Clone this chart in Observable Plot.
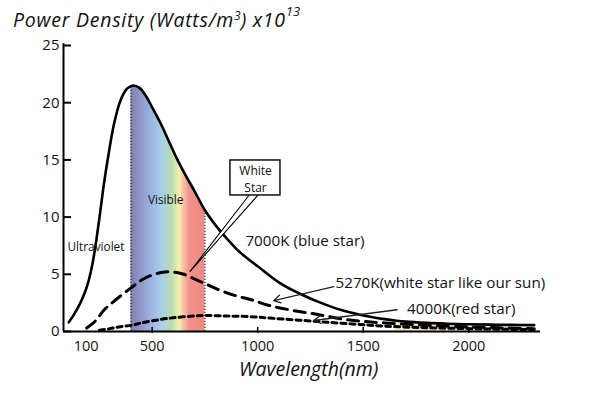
<!DOCTYPE html>
<html>
<head>
<meta charset="utf-8">
<script src="https://cdn.jsdelivr.net/npm/d3@7"></script>
<script src="https://cdn.jsdelivr.net/npm/@observablehq/plot@0.6"></script>
<style>
  html, body { margin: 0; padding: 0; background: #fff; }
  #wrap { position: relative; width: 602px; height: 395px; font-family: "Open Sans", sans-serif; }
  #title { position: absolute; left: 13px; top: 10px; font-size: 19.5px; line-height: 1; font-style: italic; color: #111; white-space: nowrap; letter-spacing: 0.75px; }
  #title sup { font-size: 12px; line-height: 0; letter-spacing: 0; }
  #title sup.big { font-size: 13px; position: relative; top: -4px; }
</style>
</head>
<body>
<div id="wrap">
  <div id="title">Power Density (Watts/m<sup>3</sup>) x10<sup class="big">13</sup></div>
</div>
<script>
// ---- Data ----
// 7000K (blue star), power density x10^13 W/m^3
const wl7000 = [105, 130, 160, 185, 200, 215, 230, 250, 270, 290, 320, 350, 380, 400, 410, 440, 470, 500, 540, 580, 620, 660, 700, 750, 800, 850, 900, 950, 1000, 1100, 1200, 1300, 1400, 1500, 1600, 1650, 1700, 1800, 1900, 2000, 2100, 2200, 2310];
const pw7000 = [0.8, 1.5, 2.5, 3.6, 4.5, 5.7, 7.3, 9.9, 12.7, 15.1, 18.2, 20.2, 21.2, 21.45, 21.5, 21.3, 20.6, 19.6, 18.2, 16.6, 15.0, 13.6, 12.3, 10.6, 9.3, 8.2, 7.2, 6.4, 5.7, 4.3, 3.3, 2.5, 1.85, 1.4, 1.08, 0.96, 0.86, 0.75, 0.68, 0.63, 0.6, 0.58, 0.56];
// 5270K (white star like our sun)
const wl5270 = [190, 230, 273, 310, 350, 406, 450, 510, 560, 600, 650, 700, 760, 823, 900, 966, 1050, 1150, 1280, 1437, 1600, 1800, 2000, 2150, 2310];
const pw5270 = [0.3, 0.9, 1.9, 2.5, 3.1, 3.9, 4.5, 5.0, 5.2, 5.2, 5.0, 4.6, 4.1, 3.6, 3.1, 2.8, 2.3, 1.9, 1.5, 1.0, 0.75, 0.55, 0.4, 0.32, 0.25];
// 4000K (red star)
const wl4000 = [250, 300, 350, 405, 450, 539, 600, 697, 760, 854, 966, 1075, 1280, 1450, 1600, 1800, 2000, 2150, 2310];
const pw4000 = [0.1, 0.25, 0.42, 0.55, 0.75, 1.05, 1.2, 1.35, 1.4, 1.35, 1.3, 1.15, 0.88, 0.65, 0.47, 0.33, 0.25, 0.2, 0.16];
// Visible band (nm) and infrared shading start
const visibleBand = [400, 750];
const infraredStart = 1650;
// Axis ticks
const xTicks = [500, 1000, 1500, 2000];
const xExtraLabel = ["100"];
const yTicks = [0, 5, 10, 15, 20, 25];
// Annotations (data coordinates)
const seriesLabels = [
  {text: "7000K (blue star)", w: 942, p: 7.9},
  {text: "5270K(white star like our sun)", w: 1369, p: 4.22},
  {text: "4000K(red star)", w: 1708, p: 1.98}
];
const arrows = [
  {w1: 1361, p1: 3.93, w2: 1076, p2: 2.7},
  {w1: 1661, p1: 1.9, w2: 1266, p2: 0.96}
];
const regionLabels = [
  {text: "Ultraviolet", w: 99, p: 7.37},
  {text: "Visible", w: 480, p: 11.45}
];
const calloutBox = {x1: 871, x2: 1108, y1: 11.89, y2: 14.95};
const calloutLines = [{text: "White", w: 990, p: 14.0}, {text: "Star", w: 990, p: 12.56}];
const calloutWedge = [{w: 958, p: 11.89}, {w: 680, p: 5.25}, {w: 1000, p: 11.89}];

// ---- Build tables ----
const zip = (ws, ps) => ws.map((w, i) => ({w, p: ps[i]}));
const d7000 = zip(wl7000, pw7000);
const d5270 = zip(wl5270, pw5270);
const d4000 = zip(wl4000, pw4000);
const dVisible = d7000.filter(d => d.w >= visibleBand[0] && d.w <= visibleBand[1]);
const dInfra = d7000.filter(d => d.w >= infraredStart);
const edgeRules = visibleBand.map(w => ({w, p: d7000.find(d => d.w === w).p}));

const X0 = 80, X1 = 2340;
const tickLenX = 38; // ~8px in nm
const curve = "catmull-rom";

const chart = Plot.plot({
  width: 602,
  height: 395,
  marginTop: 45,
  marginBottom: 64,
  marginLeft: 63,
  marginRight: 62,
  style: {fontFamily: "Open Sans, sans-serif", color: "#111", background: "transparent", overflow: "visible"},
  x: {domain: [X0, X1], axis: null},
  y: {domain: [0, 25], axis: null},
  marks: [
    Plot.areaY(dInfra, {x: "w", y: "p", fill: "#f6e9c9", curve}),
    Plot.areaY(dVisible, {x: "w", y: "p", fill: "url(#spectrum)", curve}),
    Plot.ruleX(edgeRules, {x: "w", y1: 0, y2: "p", stroke: "#333", strokeWidth: 1.3, strokeDasharray: "1.3 1.7"}),
    Plot.line(d4000, {x: "w", y: "p", stroke: "#000", strokeWidth: 3, strokeDasharray: "5 4", curve}),
    Plot.line(d5270, {x: "w", y: "p", stroke: "#000", strokeWidth: 3, strokeDasharray: "11 7", curve}),
    Plot.line(d7000, {x: "w", y: "p", stroke: "#000", strokeWidth: 2.6, curve}),
    // axes
    Plot.ruleY([0], {stroke: "#000", strokeWidth: 2}),
    Plot.ruleX([X0], {y1: 0, y2: 25.15, stroke: "#000", strokeWidth: 2}),
    Plot.ruleY(yTicks, {y: d => d, x1: X0, x2: X0 + tickLenX, stroke: "#000", strokeWidth: 2}),
    Plot.ruleX(xTicks, {x: d => d, y1: -0.17, y2: 0.35, stroke: "#000", strokeWidth: 1.5}),
    Plot.text(yTicks, {x: X0, y: d => d, text: d => String(d), textAnchor: "end", dx: -4, fontSize: 15, fill: "#111"}),
    Plot.text(xTicks, {x: d => d, y: 0, text: d => String(d), dy: 15, fontSize: 14.5, fill: "#111"}),
    Plot.text(xExtraLabel, {x: 187, y: 0, text: d => d, dy: 15, fontSize: 14.5, fill: "#111"}),
    Plot.text(["Wavelength(nm)"], {x: 1241, y: 0, text: d => d, dy: 38, fontSize: 19.5, fontStyle: "italic", fill: "#111"}),
    // callout
    Plot.line(calloutWedge, {x: "w", y: "p", fill: "#fff", stroke: "#000", strokeWidth: 1.1}),
    Plot.rect([calloutBox], {x1: "x1", x2: "x2", y1: "y1", y2: "y2", fill: "#fff", stroke: "#000", strokeWidth: 1.4}),
    Plot.text(calloutLines, {x: "w", y: "p", text: "text", fontSize: 12, fill: "#111"}),
    Plot.text(regionLabels, {x: "w", y: "p", text: "text", textAnchor: "start", fontSize: 11.8, fill: "#111"}),
    Plot.text(seriesLabels, {x: "w", y: "p", text: "text", textAnchor: "start", fontSize: 15.2, fill: "#111"}),
    Plot.arrow(arrows, {x1: "w1", y1: "p1", x2: "w2", y2: "p2", stroke: "#222", strokeWidth: 1.3, headLength: 9})
  ]
});

const svg = chart.tagName.toLowerCase() === "svg" ? chart : chart.querySelector("svg");
const defs = d3.select(svg).insert("defs", ":first-child");
const grad = defs.append("linearGradient").attr("id", "spectrum").attr("x1", "0").attr("x2", "1").attr("y1", "0").attr("y2", "0");
const stops = [
  [0, "#7f7fb0"], [0.1, "#8d90c4"], [0.28, "#9db4e2"], [0.42, "#a9d0ea"], [0.55, "#b6dcb2"],
  [0.66, "#f4f0ae"], [0.72, "#f6bea2"], [0.8, "#f2918a"], [1, "#f08882"]
];
stops.forEach(([o, c]) => grad.append("stop").attr("offset", o).attr("stop-color", c));
document.getElementById("wrap").prepend(chart);
</script>
</body>
</html>
